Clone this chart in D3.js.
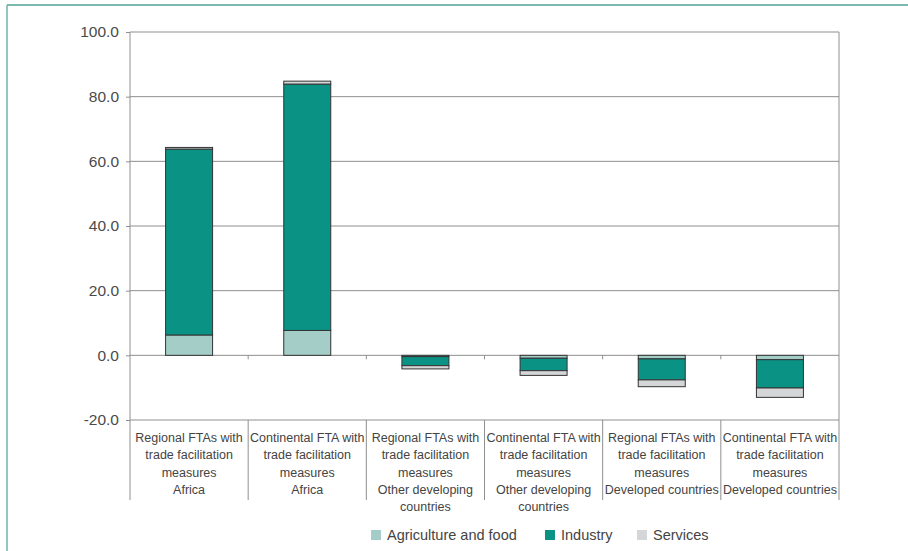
<!DOCTYPE html>
<html><head><meta charset="utf-8">
<script src="https://cdn.jsdelivr.net/npm/d3@7"></script>
<style>body{margin:0;background:#fff}svg{display:block}text{font-family:"Liberation Sans",Arial,sans-serif;fill:#444}</style>
</head><body>
<svg id="c" width="908" height="551"></svg>
<script>
const categories = [
  ["Regional FTAs with","trade facilitation","measures","Africa"],
  ["Continental FTA with","trade facilitation","measures","Africa"],
  ["Regional FTAs with","trade facilitation","measures","Other developing","countries"],
  ["Continental FTA with","trade facilitation","measures","Other developing","countries"],
  ["Regional FTAs with","trade facilitation","measures","Developed countries"],
  ["Continental FTA with","trade facilitation","measures","Developed countries"]
];
const seriesNames = ["Agriculture and food","Industry","Services"];
const agriculture = [6.3, 7.7, -0.4, -0.9, -1.1, -1.35];
const industry = [57.5, 76.2, -2.8, -3.85, -6.5, -8.75];
const services = [0.5, 0.9, -1.0, -1.45, -2.1, -2.9];
const yTicks = [-20, 0, 20, 40, 60, 80, 100];
const colors = ["#a3cdc6", "#0a9385", "#d5d6d8"];

const svg = d3.select("#c");
// frame
svg.append("line").attr("x1",7).attr("x2",908).attr("y1",5).attr("y2",5).attr("stroke","#4fa394").attr("stroke-width",1.5);
svg.append("line").attr("x1",7).attr("x2",7).attr("y1",5).attr("y2",551).attr("stroke","#6fb3a8").attr("stroke-width",1.5);

const L=130, R=839, T=32, B=420;
const x = d3.scaleBand().domain(d3.range(categories.length)).range([L,R]).paddingInner(0).paddingOuter(0);
const y = d3.scaleLinear().domain([-20,100]).range([B,T]);

const g = svg.append("g");
// gridlines
g.selectAll("line.grid").data(yTicks).join("line")
  .attr("x1",L).attr("x2",R).attr("y1",d=>y(d)).attr("y2",d=>y(d))
  .attr("stroke","#8f8f8f").attr("stroke-width",1);
// plot border left & right
g.append("line").attr("x1",L).attr("x2",L).attr("y1",T).attr("y2",B).attr("stroke","#8f8f8f");
g.append("line").attr("x1",R).attr("x2",R).attr("y1",T).attr("y2",B).attr("stroke","#8f8f8f");

// y axis
const fmt = d => d3.format(".1f")(d).replace("\u2212","-");
const yAxis = d3.axisLeft(y).tickValues(yTicks).tickFormat(fmt).tickSize(4).tickPadding(7);
const ya = g.append("g").attr("transform",`translate(${L},0)`).call(yAxis);
ya.select(".domain").remove();
ya.selectAll(".tick line").attr("stroke","#8f8f8f");
ya.selectAll("text").style("font-size","15.5px").style("fill","#4a4a4a");

// ticks at zero line for categories
g.selectAll("line.ztick").data(d3.range(1,categories.length)).join("line")
  .attr("x1",d=>x(d)).attr("x2",d=>x(d)).attr("y1",y(0)).attr("y2",y(0)+4).attr("stroke","#8f8f8f");

// category separators
g.selectAll("line.sep").data(d3.range(categories.length+1)).join("line")
  .attr("x1",d=>d===categories.length?R:x(d)).attr("x2",d=>d===categories.length?R:x(d))
  .attr("y1",B).attr("y2",500).attr("stroke","#8f8f8f");

// stacked data
const table = categories.map((c,i)=>({i, a:agriculture[i], n:industry[i], s:services[i]}));
const stack = d3.stack().keys(["a","n","s"]).offset(d3.stackOffsetDiverging);
const layers = stack(table);
const bw = 47;
layers.forEach((layer,k)=>{
  g.selectAll(null).data(layer).join("rect")
    .attr("x",d=>x(d.data.i)+x.bandwidth()/2-bw/2)
    .attr("width",bw)
    .attr("y",d=>y(Math.max(d[0],d[1])))
    .attr("height",d=>Math.abs(y(d[0])-y(d[1])))
    .attr("fill",colors[k]).attr("stroke","#333").attr("stroke-width",1);
});

// category labels
categories.forEach((lines,i)=>{
  const t = g.append("text").attr("text-anchor","middle").style("font-size","12.5px");
  lines.forEach((ln,j)=>{
    t.append("tspan").attr("x",x(i)+x.bandwidth()/2).attr("y",442+j*17.3).text(ln);
  });
});

// legend
const legX = [371, 545, 637];
seriesNames.forEach((n,k)=>{
  svg.append("rect").attr("x",legX[k]).attr("y",530).attr("width",10).attr("height",10).attr("fill",colors[k]);
  svg.append("text").attr("x",legX[k]+16).attr("y",540).style("font-size","14.5px").text(n);
});
</script>
</body></html>
